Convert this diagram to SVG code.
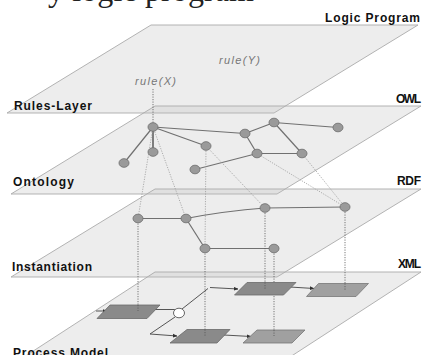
<svg xmlns="http://www.w3.org/2000/svg" width="423" height="355" viewBox="0 0 423 355">
<style>
.plane{fill:#bbbbbb;fill-opacity:0.27;stroke:#aaaaaa;stroke-width:0.9}
.lbl{font-family:"Liberation Sans",Arial,sans-serif;font-weight:bold;font-size:12px;fill:#111}
.rule{font-family:"Liberation Sans",Arial,sans-serif;font-style:italic;font-size:11px;fill:#777}
.node{fill:#9a9a9a;stroke:#737373;stroke-width:0.9}
.edge{stroke:#707070;stroke-width:1.2;fill:none}
.dark{stroke:#333;stroke-width:1.2;fill:none}
.ldot{stroke:#9a9a9a;stroke-width:0.8;stroke-dasharray:1.2 1.3;fill:none}
.ddot{stroke:#555;stroke-width:0.8;stroke-dasharray:1.2 1.3;fill:none}
.flow{stroke:#444;stroke-width:0.9;fill:none}
.boxd{fill:#8a8a8a;stroke:#6a6a6a;stroke-width:0.8}
.boxl{fill:#a0a0a0;stroke:#777;stroke-width:0.8}
</style>
<defs>
<marker id="ah" viewBox="0 0 6 6" refX="5.5" refY="3" markerWidth="5" markerHeight="5" orient="auto">
<path d="M0,0.5 L6,3 L0,5.5 z" fill="#333"/>
</marker>
</defs>
<rect width="423" height="355" fill="#fff"/>
<text x="48" y="1" font-family="'Liberation Serif','Times New Roman',serif" font-size="32" fill="#222" textLength="206">y logic program</text>

<g id="planes">
<polygon id="plane-logic" class="plane" points="151,25 418,25 274,113 7,113"/>
<polygon id="plane-owl" class="plane" points="155,106 421,106 277,194 11,194"/>
<polygon id="plane-rdf" class="plane" points="155,189 421,189 277,277 11,277"/>
<polygon id="plane-xml" class="plane" points="155,272 421,272 270,370 4,370"/>
</g>

<g id="labels">
<text class="lbl" x="325" y="22" textLength="95">Logic Program</text>
<text class="lbl" x="14" y="110" textLength="78">Rules-Layer</text>
<text class="lbl" x="396" y="103" textLength="25">OWL</text>
<text class="lbl" x="13" y="186" textLength="61">Ontology</text>
<text class="lbl" x="397" y="185" textLength="24">RDF</text>
<text class="lbl" x="12" y="271" textLength="80">Instantiation</text>
<text class="lbl" x="398" y="268" textLength="23">XML</text>
<text class="lbl" x="13" y="357" textLength="95">Process Model</text>
<text class="rule" x="135" y="85" textLength="41">rule(X)</text>
<text class="rule" x="219" y="64" textLength="41">rule(Y)</text>
</g>

<g id="connectors">
<!-- rule link -->
<line class="ddot" x1="153" y1="89" x2="153" y2="123"/>
<!-- ontology edges -->
<line class="dark" x1="153" y1="127" x2="153" y2="152"/>
<line class="edge" x1="153" y1="127" x2="124" y2="163"/>
<line class="edge" x1="153" y1="127" x2="206" y2="146"/>
<line class="edge" x1="153" y1="127" x2="245" y2="133.5"/>
<line class="edge" x1="245" y1="133.5" x2="274" y2="122.5"/>
<line class="edge" x1="274" y1="122.5" x2="338" y2="127.5"/>
<line class="edge" x1="245" y1="133.5" x2="257" y2="153.5"/>
<line class="edge" x1="274" y1="122.5" x2="302" y2="153.5"/>
<line class="edge" x1="257" y1="153.5" x2="302" y2="153.5"/>
<line class="edge" x1="195" y1="169.5" x2="257" y2="153.5"/>
<!-- ontology to instantiation -->
<line class="ldot" x1="153" y1="127" x2="138" y2="218.5"/>
<line class="ldot" x1="153" y1="127" x2="186" y2="218.5"/>
<line class="ldot" x1="206" y1="146" x2="205" y2="248.5"/>
<line class="ldot" x1="206" y1="146" x2="265" y2="208"/>
<line class="ldot" x1="257" y1="153.5" x2="345" y2="207"/>
<line class="ldot" x1="302" y1="153.5" x2="345" y2="207"/>
<!-- instantiation edges -->
<line class="edge" x1="138" y1="218.5" x2="186" y2="218.5"/>
<path class="edge" d="M186,218.5 Q225,211 265,208"/>
<line class="edge" x1="265" y1="208" x2="345" y2="207"/>
<line class="edge" x1="186" y1="218.5" x2="205" y2="248.5"/>
<line class="edge" x1="205" y1="248.5" x2="274" y2="248.5"/>
<!-- instantiation to process -->
<line class="ddot" x1="138" y1="218.5" x2="138" y2="311"/>
<line class="ddot" x1="205" y1="248.5" x2="205" y2="336"/>
<line class="ddot" x1="265" y1="208" x2="265" y2="289"/>
<line class="ddot" x1="345" y1="207" x2="345" y2="290"/>
<line class="ddot" x1="274" y1="248.5" x2="274" y2="336"/>
<!-- process flow -->
<line class="flow" x1="96" y1="311" x2="107" y2="311" marker-end="url(#ah)"/>
<line class="flow" x1="154" y1="309.5" x2="175" y2="309.5"/>
<line class="flow" x1="182" y1="309" x2="208" y2="288.5"/>
<line class="flow" x1="210" y1="287.5" x2="238" y2="289" marker-end="url(#ah)"/>
<line class="flow" x1="175" y1="317" x2="150" y2="334"/>
<line class="flow" x1="150" y1="334" x2="177" y2="336" marker-end="url(#ah)"/>
<line class="flow" x1="290" y1="287" x2="314" y2="288.5" marker-end="url(#ah)"/>
<line class="flow" x1="224" y1="335" x2="251" y2="336.5" marker-end="url(#ah)"/>
</g>

<g id="n-A"><ellipse class="node" cx="153" cy="127" rx="5" ry="4.3"/></g>
<g id="n-B"><ellipse class="node" cx="153" cy="152" rx="5" ry="4.3"/></g>
<g id="n-C"><ellipse class="node" cx="124" cy="163" rx="5" ry="4.3"/></g>
<g id="n-D"><ellipse class="node" cx="206" cy="146" rx="5" ry="4.3"/></g>
<g id="n-E"><ellipse class="node" cx="195" cy="169.5" rx="5" ry="4.3"/></g>
<g id="n-F"><ellipse class="node" cx="245" cy="133.5" rx="5" ry="4.3"/></g>
<g id="n-G"><ellipse class="node" cx="274" cy="122.5" rx="5" ry="4.3"/></g>
<g id="n-H"><ellipse class="node" cx="338" cy="127.5" rx="5" ry="4.3"/></g>
<g id="n-I"><ellipse class="node" cx="257" cy="153.5" rx="5" ry="4.3"/></g>
<g id="n-J"><ellipse class="node" cx="302" cy="153.5" rx="5" ry="4.3"/></g>

<g id="n-P"><ellipse class="node" cx="138" cy="218.5" rx="5" ry="4.3"/></g>
<g id="n-Q"><ellipse class="node" cx="186" cy="218.5" rx="5" ry="4.3"/></g>
<g id="n-R"><ellipse class="node" cx="265" cy="208" rx="5" ry="4.3"/></g>
<g id="n-S"><ellipse class="node" cx="345" cy="207" rx="5" ry="4.3"/></g>
<g id="n-T"><ellipse class="node" cx="205" cy="248.5" rx="5" ry="4.3"/></g>
<g id="n-U"><ellipse class="node" cx="274" cy="248.5" rx="5" ry="4.3"/></g>

<g id="task1"><polygon class="boxd" points="110,305 160,305 147,318.5 97,318.5"/></g>
<g id="task2"><polygon class="boxd" points="187,329.5 230,329.5 217,343 170,343"/></g>
<g id="task3"><polygon class="boxd" points="247,282.5 296,282.5 283.5,295 234.5,295"/></g>
<g id="task4"><polygon class="boxl" points="318.5,283.5 368.5,283.5 356,296.5 306.5,296.5"/></g>
<g id="task5"><polygon class="boxl" points="257,330 305,330 292,343 243,343"/></g>
<g id="gateway"><ellipse cx="179" cy="313" rx="5.5" ry="4.8" fill="#fff" stroke="#555" stroke-width="0.9"/></g>
<g id="rdots">
<line class="ddot" x1="138" y1="305" x2="138" y2="311"/>
<line class="ddot" x1="205" y1="329.5" x2="205" y2="336"/>
<line class="ddot" x1="265" y1="282.5" x2="265" y2="289"/>
<line class="ddot" x1="345" y1="283.5" x2="345" y2="290"/>
<line class="ddot" x1="274" y1="330" x2="274" y2="336"/>
</g>
</svg>
